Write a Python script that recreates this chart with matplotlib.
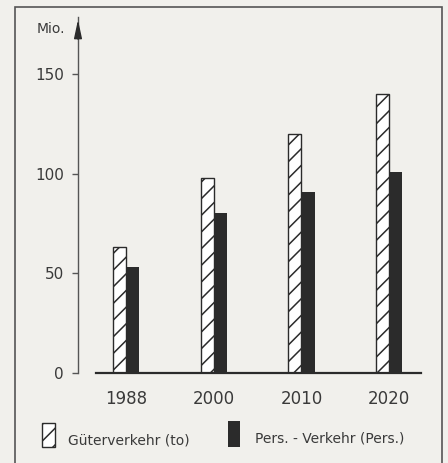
import numpy as np
import matplotlib.pyplot as plt
from matplotlib.patches import Rectangle

# Data
years = ['1988', '2000', '2010', '2020']
gueter = [63, 98, 120, 140]     # Güterverkehr (to)
personen = [53, 80, 91, 101]    # Pers.-Verkehr (Pers.)
yticks = [0, 50, 100, 150]

bg = '#f1f0ec'
ink = '#2b2b2b'
txt = '#3a3a3a'
plt.rcParams['font.family'] = ['DejaVu Sans']
plt.rcParams['hatch.linewidth'] = 1.1
plt.rcParams['hatch.color'] = '#444444'

W, H = 448, 463
fig = plt.figure(figsize=(W / 100, H / 100), dpi=100, facecolor=bg)

# outer frame
fig.patches.append(Rectangle((15 / W, -0.05), (442 - 15) / W, 1.05 - 7 / H,
                             transform=fig.transFigure, fill=False,
                             edgecolor='#555555', linewidth=1.2))

ax = fig.add_axes([78 / W, 1 - 373 / H, (425 - 78) / W, (373 - 17) / H])
ax.set_facecolor('none')

x = np.arange(len(years))
w = 0.15
ax.bar(x - w / 2, gueter, width=w, facecolor='white', edgecolor=ink,
       hatch='//', linewidth=1.0)
ax.bar(x + w / 2, personen, width=w, color=ink, linewidth=0)

ax.set_xlim(-0.548, 3.41)
ax.set_ylim(0, 178.5)

for s in ['top', 'right', 'bottom']:
    ax.spines[s].set_visible(False)
ax.spines['left'].set_color('#555555')
ax.spines['left'].set_linewidth(1.0)
ax.axhline(0, xmin=(96 - 78) / (425 - 78), xmax=(421 - 78) / (425 - 78),
           color=ink, linewidth=1.6, clip_on=False)

# arrow at top of y axis
ax.annotate('', xy=(0, 1.0), xytext=(0, 0.93), xycoords='axes fraction',
            arrowprops=dict(arrowstyle='-|>,head_length=1.4,head_width=0.3',
                            color=ink, lw=1.0, mutation_scale=8))

ax.set_yticks(yticks)
ax.set_yticklabels([str(t) for t in yticks], fontsize=11, color=txt)
ax.tick_params(axis='y', length=4, width=1.0, color='#555555', pad=6)
ax.set_xticks(x)
ax.set_xticklabels(years, fontsize=12, color=txt)
ax.tick_params(axis='x', length=0, pad=12)

fig.text(37 / W, 1 - 29 / H, 'Mio.', fontsize=10, color=txt,
         va='center', ha='left')

# legend
fig.patches.append(Rectangle((42 / W, 1 - 447 / H), 13 / W, 24 / H,
                             transform=fig.transFigure, facecolor='white',
                             edgecolor=ink, hatch='//', linewidth=1.0))
fig.text(68 / W, 1 - 440 / H, 'Güterverkehr (to)', fontsize=10,
         color=txt, va='center', ha='left')
fig.patches.append(Rectangle((228 / W, 1 - 447 / H), 12 / W, 26 / H,
                             transform=fig.transFigure, facecolor=ink,
                             linewidth=0))
fig.text(255 / W, 1 - 439 / H, 'Pers. - Verkehr (Pers.)', fontsize=10,
         color=txt, va='center', ha='left')

fig.savefig('out.png', dpi=100, facecolor=bg)
